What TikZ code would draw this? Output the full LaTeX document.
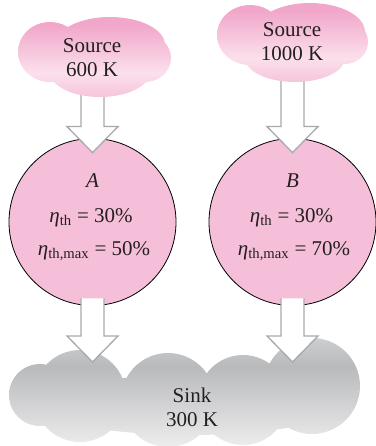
\documentclass[tikz,border=0pt]{standalone}
\usepackage{fontspec}
\setmainfont{Liberation Serif}
\usetikzlibrary{calc}
\definecolor{pkT}{HTML}{F1A7CA}
\definecolor{pkL}{HTML}{FBE0EC}
\definecolor{pkB}{HTML}{F6C4DB}
\definecolor{engfill}{HTML}{F6BFD9}
\definecolor{gyT}{HTML}{CDCED0}
\definecolor{gyD}{HTML}{B9BABC}
\definecolor{gyB}{HTML}{EDEDEE}
\definecolor{arrgray}{HTML}{A7A9AC}
\definecolor{txt}{HTML}{231F20}
\pgfdeclareverticalshading{pinkcloud}{100bp}{color(0bp)=(pkB); color(25bp)=(pkB); color(40bp)=(pkL); color(70bp)=(pkT); color(100bp)=(pkT)}
\pgfdeclareverticalshading{graycloud}{100bp}{color(0bp)=(gyB); color(25bp)=(gyB); color(62bp)=(gyD); color(75bp)=(gyT); color(100bp)=(gyT)}
\newcommand\blockarrow[2]{%
  \fill[white] let \p1=(#1), \p2=(#2) in
    (\x1-11.5pt,\y1) -- (\x1-11.5pt,\y2+26pt) -- (\x1-25.5pt,\y2+26pt) -- (\x2,\y2)
    -- (\x1+25.5pt,\y2+26pt) -- (\x1+11.5pt,\y2+26pt) -- (\x1+11.5pt,\y1) -- cycle;
  \draw[arrowline] let \p1=(#1), \p2=(#2) in
    (\x1-11.5pt,\y1) -- (\x1-11.5pt,\y2+26pt) -- (\x1-25.5pt,\y2+26pt) -- (\x2,\y2)
    -- (\x1+25.5pt,\y2+26pt) -- (\x1+11.5pt,\y2+26pt) -- (\x1+11.5pt,\y1);
}
\begin{document}
\begin{tikzpicture}[x=1pt,y=-1pt,
  arrowline/.style={draw=arrgray,line width=1.3pt,line join=miter},
  lbl/.style={font=\fontsize{21}{24}\selectfont,text=txt,inner sep=0pt},
  engine/.style={circle,draw=black,line width=0.8pt,fill=engfill,minimum size=167pt,inner sep=0pt}]
\useasboundingbox (0,0) rectangle (375,446);
% sink cloud
\shade[shading=graycloud] (40,395) circle[radius=31pt] (80,396) circle[radius=46pt]
  (168,400) circle[radius=47pt] (243,400) circle[radius=45pt] (312,386) circle[radius=48pt]
  (190,405) ellipse[x radius=150pt,y radius=30pt];
% engines
\node[engine] (A) at (92.5,222) {};
\node[engine] (B) at (292.5,222) {};
% connector end points
\coordinate (a0) at (92.5,88);
\coordinate (a1) at ($(A.north)+(0,14.5)$);
\coordinate (a2) at ($(A.south)+(0,-7.5)$);
\coordinate (a3) at (92.5,362);
\coordinate (b0) at (292.5,72);
\coordinate (b1) at ($(B.north)+(0,14.5)$);
\coordinate (b2) at ($(B.south)+(0,-7.5)$);
\coordinate (b3) at (292.5,362);
\blockarrow{a2}{a3}
\blockarrow{b2}{b3}
\blockarrow{a0}{a1}
\blockarrow{b0}{b1}
% source clouds
\shade[shading=pinkcloud]
  (50,52) ellipse[x radius=32pt,y radius=30pt]
  (110,45) ellipse[x radius=55pt,y radius=28pt]
  (145,58) ellipse[x radius=26pt,y radius=24pt]
  (100,72) ellipse[x radius=50pt,y radius=25pt];
\shade[shading=pinkcloud]
  (250,35) ellipse[x radius=33pt,y radius=30pt]
  (310,32) ellipse[x radius=55pt,y radius=29pt]
  (345,42) ellipse[x radius=23pt,y radius=22pt]
  (295,58) ellipse[x radius=50pt,y radius=24pt];
% texts
\node[lbl,align=center] (srcA) at (92,58) {Source\\600 K};
\node[lbl,align=center] (srcB) at (292,42) {Source\\1000 K};
\node[lbl,align=center] (sink) at (192,407) {Sink\\300 K};
\node[lbl,anchor=base] (Aname) at (92.5,188) {\itshape A};
\node[lbl,anchor=base] (Aeta) at (91,222) {{\itshape η}\textsubscript{th} = 30\%};
\node[lbl,anchor=base] (Aetam) at (94,255) {{\itshape η}\textsubscript{th,max} = 50\%};
\node[lbl,anchor=base] (Bname) at (292.5,188) {\itshape B};
\node[lbl,anchor=base] (Beta) at (291.5,222) {{\itshape η}\textsubscript{th} = 30\%};
\node[lbl,anchor=base] (Betam) at (294,255) {{\itshape η}\textsubscript{th,max} = 70\%};
\end{tikzpicture}
\end{document}
